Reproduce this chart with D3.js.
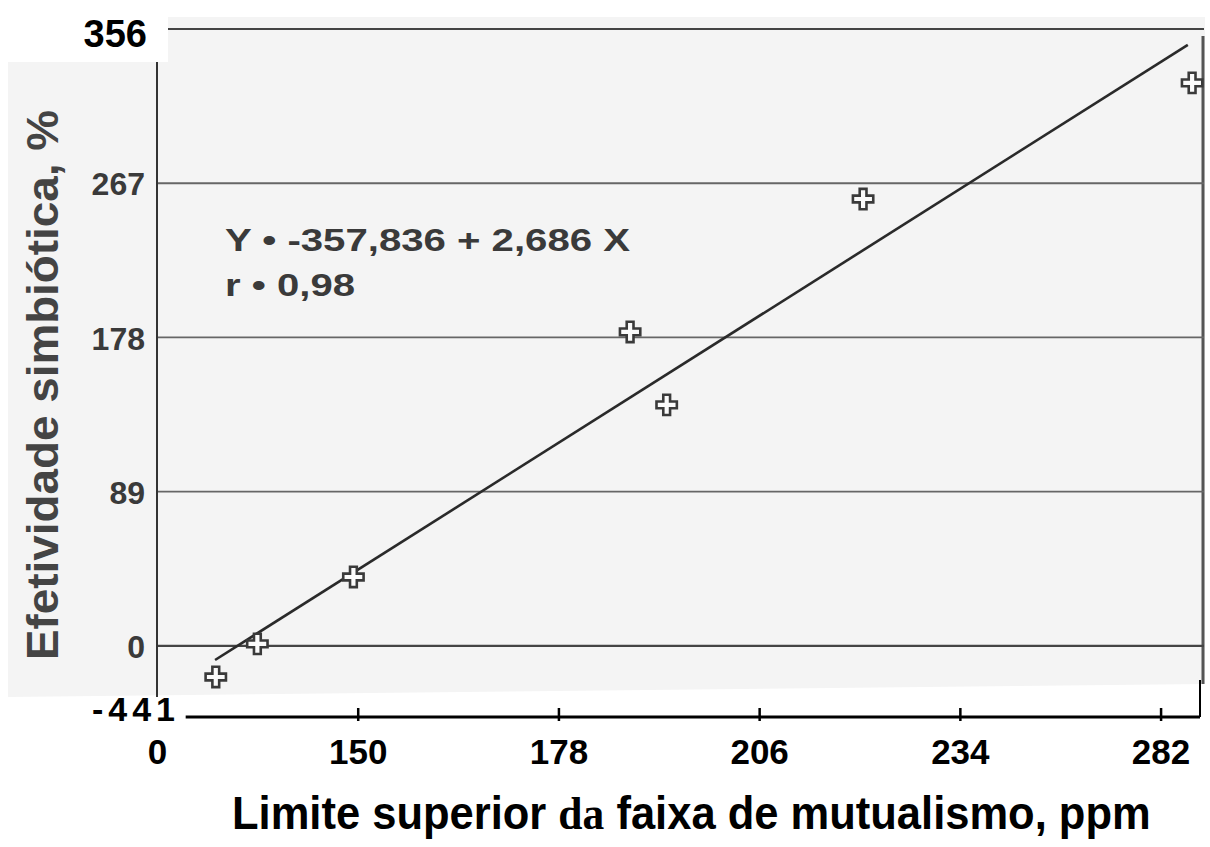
<!DOCTYPE html>
<html>
<head>
<meta charset="utf-8">
<script src="https://cdn.jsdelivr.net/npm/d3@7/dist/d3.min.js"></script>
<style>
  html, body { margin: 0; padding: 0; background: #ffffff; }
  svg { display: block; }
</style>
</head>
<body>
<svg id="chart" width="1210" height="847"></svg>
<script>
// ---- data ----
const xTickValues = [122, 150, 178, 206, 234, 262];
const xTickLabels = ["0", "150", "178", "206", "234", "282"];
const yTickValues = [0, 89, 178, 267, 356];
const yTickLabels = ["0", "89", "178", "267", "356"];
const yBottomValue = -41;
const yBottomLabel = "-441";
const pointX = [130.2, 136.0, 149.4, 188.0, 193.1, 220.5, 266.4];
const pointY = [-17.9, 1.2, 39.8, 181.2, 139.1, 257.9, 324.9];
const fitX = [130.1, 265.8];
const fitY = [-8.1, 346.8];
const equationLines = ["Y \u2022 -357,836 + 2,686 X", "r \u2022 0,98"];
const xTitle = ["Limite superior ", "da", " faixa de mutualismo, ppm"];
const yTitle = "Efetividade simbi\u00f3tica, %";

// ---- layout ----
const svg = d3.select("#chart");
const W = 1210, H = 847;
const x = d3.scaleLinear().domain([122, 267.5]).range([157, 1200]);
const y = d3.scaleLinear().domain([yBottomValue, 356]).range([717, 29]);
const sans = "'Liberation Sans', Arial, Helvetica, sans-serif";
const serif = "'Liberation Serif', 'Times New Roman', serif";
const scanBg = "#f4f4f4";
const ink = "#3a3a3a";

svg.append("rect").attr("width", W).attr("height", H).attr("fill", "#ffffff");

// scanned plot background
const pl = x.range()[0], pr = x.range()[1];
svg.append("path")
  .attr("d", `M8,62 L${pl + 11},62 L${pl + 11},17 L${pr + 5},17 L${pr + 5},684 L8,697 Z`)
  .attr("fill", scanBg);
// right dark edge of scanned frame
svg.append("line")
  .attr("x1", pr + 3).attr("x2", pr + 3)
  .attr("y1", 36).attr("y2", 684)
  .attr("stroke", "#555").attr("stroke-width", 3);

// gridlines
svg.append("g").selectAll("line").data(yTickValues).join("line")
  .attr("x1", d => d === 356 ? pl + 11 : pl)
  .attr("x2", pr + 4)
  .attr("y1", d => y(d)).attr("y2", d => y(d))
  .attr("stroke", d => d === 0 || d === 356 ? "#444" : "#666")
  .attr("stroke-width", d => d === 0 || d === 356 ? 2.2 : 1.8);

// y axis line (scan)
svg.append("line")
  .attr("x1", pl).attr("x2", pl)
  .attr("y1", 62).attr("y2", 697)
  .attr("stroke", "#333").attr("stroke-width", 2);

// y axis labels
const yAxis = d3.axisLeft(y).tickValues(yTickValues)
  .tickFormat((d, i) => yTickLabels[i]).tickSize(0).tickPadding(12);
const gy = svg.append("g").attr("transform", `translate(${pl},0)`).call(yAxis);
gy.select(".domain").remove();
gy.selectAll("text")
  .attr("font-family", sans).attr("font-weight", "bold")
  .attr("font-size", d => d === 356 ? 38 : 32)
  .attr("fill", d => d === 356 ? "#000" : ink)
  .attr("dx", d => d === 356 ? 2 : 0)
  .attr("dy", d => d === 356 ? "0.45em" : "0.36em");

// bottom label -441
svg.append("text")
  .attr("x", pl + 23).attr("y", y(yBottomValue) + 4)
  .attr("text-anchor", "end")
  .attr("font-family", sans).attr("font-weight", "bold").attr("font-size", 34)
  .attr("letter-spacing", 5)
  .attr("fill", "#000").text(yBottomLabel);

// x axis
const xAxis = d3.axisBottom(x).tickValues(xTickValues)
  .tickFormat((d, i) => xTickLabels[i]).tickSizeInner(-9).tickSizeOuter(0).tickPadding(22);
const gx = svg.append("g").attr("transform", `translate(0,${y(yBottomValue)})`).call(xAxis);
gx.select(".domain").remove();
gx.selectAll(".tick line").attr("stroke", "#000").attr("stroke-width", 2.5)
  .attr("y2", -9).attr("y1", 4);
gx.select(".tick line").remove();
gx.selectAll("text")
  .attr("font-family", sans).attr("font-weight", "bold").attr("font-size", 35)
  .attr("fill", "#000");
gx.append("line")
  .attr("x1", x(126)).attr("x2", pr)
  .attr("y1", 0).attr("y2", 0)
  .attr("stroke", "#000").attr("stroke-width", 3);
gx.append("line")
  .attr("x1", pr).attr("x2", pr)
  .attr("y1", 0).attr("y2", -37)
  .attr("stroke", "#000").attr("stroke-width", 2);

// regression line
svg.append("path")
  .datum(fitX.map((d, i) => [d, fitY[i]]))
  .attr("d", d3.line().x(d => x(d[0])).y(d => y(d[1])))
  .attr("fill", "none").attr("stroke", "#2a2a2a").attr("stroke-width", 2.6);

// points (open crosses)
const sym = d3.symbol().type(d3.symbolCross).size(230);
svg.append("g").selectAll("path").data(pointX.map((d, i) => [d, pointY[i]])).join("path")
  .attr("transform", d => `translate(${x(d[0])},${y(d[1])})`)
  .attr("d", sym)
  .attr("fill", "#fbfbfb").attr("stroke", "#3a3a3a").attr("stroke-width", 2.6);

// equation text
const eqLens = [405, 130];
svg.append("g").selectAll("text").data(equationLines).join("text")
  .attr("x", 225).attr("y", (d, i) => 251 + i * 45)
  .attr("font-family", sans).attr("font-size", 32).attr("fill", ink)
  .attr("font-weight", "bold")
  .attr("textLength", (d, i) => eqLens[i]).attr("lengthAdjust", "spacingAndGlyphs")
  .text(d => d);

// y title
svg.append("text")
  .attr("transform", `translate(58,${385}) rotate(-90)`)
  .attr("text-anchor", "middle")
  .attr("font-family", sans).attr("font-weight", "bold").attr("font-size", 44)
  .attr("textLength", 550).attr("lengthAdjust", "spacingAndGlyphs")
  .attr("fill", "#444")
  .text(yTitle);

// x title (horizontally condensed like the reference)
const xt = svg.append("text")
  .attr("transform", "translate(232,829) scale(0.946,1)")
  .attr("font-family", sans).attr("font-weight", "bold").attr("font-size", 46)
  .attr("fill", "#000");
xt.selectAll("tspan").data(xTitle).join("tspan")
  .attr("font-family", (d, i) => i === 1 ? serif : sans)
  .text(d => d);
</script>
</body>
</html>
